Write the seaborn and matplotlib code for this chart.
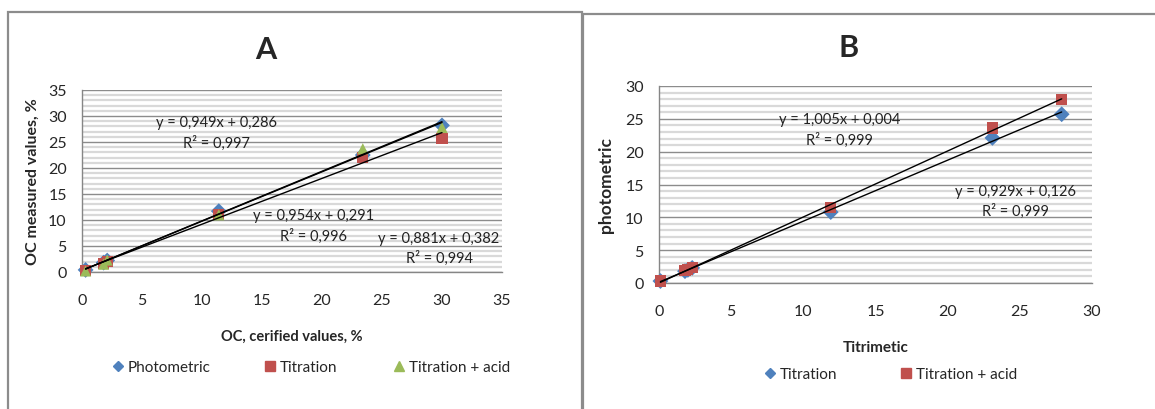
import numpy as np
import pandas as pd
import matplotlib.pyplot as plt
import seaborn as sns
from matplotlib.lines import Line2D
from matplotlib.patches import Rectangle
from matplotlib.ticker import MultipleLocator

sns.set_theme(style="white")
plt.rcParams["font.family"] = ["Lato", "DejaVu Sans"]

# ---- panel A data ----
a_x = [0.3, 1.8, 2.1, 11.4, 23.4, 30.0]
a_photometric = [0.4, 1.8, 2.2, 11.7, 22.5, 28.2]
a_titration = [0.3, 1.6, 2.0, 11.0, 22.0, 25.6]
a_titration_acid = [0.2, 1.5, 2.3, 11.0, 23.7, 27.8]
a_series = ["Photometric", "Titration", "Titration + acid"]
a_slope = [0.949, 0.881, 0.954]
a_intercept = [0.286, 0.382, 0.291]
a_labels = ["y = 0,949x + 0,286\nR² = 0,997",
            "y = 0,881x + 0,382\nR² = 0,994",
            "y = 0,954x + 0,291\nR² = 0,996"]
a_label_xy = [(11.2, 26.9), (29.75, 4.6), (19.3, 9.0)]

# ---- panel B data ----
b_x = [0.1, 1.8, 2.0, 2.3, 11.9, 23.1, 27.9]
b_titration = [0.3, 1.8, 2.0, 2.3, 10.8, 22.1, 25.7]
b_titration_acid = [0.3, 1.9, 2.1, 2.3, 11.5, 23.6, 28.0]
b_series = ["Titration", "Titration + acid"]
b_slope = [0.929, 1.005]
b_intercept = [0.126, 0.004]
b_labels = ["y = 0,929x + 0,126\nR² = 0,999",
            "y = 1,005x + 0,004\nR² = 0,999"]
b_label_xy = [(24.7, 12.5), (12.5, 23.4)]

BLUE, RED, GREEN = "#4F81BD", "#C0504D", "#9BBB59"
W, H = 1155, 410


def frac(left, top, right, bottom):
    return [left / W, 1 - bottom / H, (right - left) / W, (bottom - top) / H]


def style_axes(ax, xmax, ymax):
    ax.set_xlim(0, xmax)
    ax.set_ylim(0, ymax)
    ax.xaxis.set_major_locator(MultipleLocator(5))
    ax.yaxis.set_major_locator(MultipleLocator(5))
    ax.yaxis.set_minor_locator(MultipleLocator(1))
    ax.grid(False)
    ax.grid(which="minor", axis="y", color="#d9d9d9", lw=1.6)
    ax.grid(which="major", axis="y", color="#8c8c8c", lw=1.0)
    ax.set_axisbelow(True)
    for s in ["top", "right"]:
        ax.spines[s].set_visible(False)
    for s in ["left", "bottom"]:
        ax.spines[s].set_color("#868686")
        ax.spines[s].set_linewidth(1.0)
    ax.tick_params(axis="both", which="major", direction="out", length=5,
                   color="#868686", width=1, labelsize=11.5, pad=10)
    ax.tick_params(axis="y", pad=6)
    ax.tick_params(axis="y", which="minor", length=0)


def trend(ax, x, slope, intercept):
    xs = np.array([min(x), max(x)])
    sns.lineplot(x=xs, y=slope * xs + intercept, ax=ax, color="black", lw=1.0, zorder=5)


def legend_item(fig, handle, label, x_px, y_px):
    fig.legend([handle], [label], loc="center left",
               bbox_to_anchor=((x_px - 6) / W, 1 - y_px / H), frameon=False,
               fontsize=11, handlelength=0.9, handletextpad=0.2,
               borderpad=0, borderaxespad=0)


fig = plt.figure(figsize=(W / 100, H / 100), dpi=100)

# frames around the two chart objects
fig.patches.append(Rectangle((8 / W, -0.05), (582 - 8) / W, 1.05 - 13 / H, transform=fig.transFigure,
                             fill=False, ec="#8c8c8c", lw=1.6, clip_on=False))
fig.patches.append(Rectangle((583 / W, -0.05), 0.6, 1.05 - 15 / H, transform=fig.transFigure,
                             fill=False, ec="#8c8c8c", lw=1.6, clip_on=False))

# ---------- A ----------
axA = fig.add_axes(frac(82, 91, 502, 273))
dfA = pd.DataFrame({
    "x": a_x * 3,
    "y": a_photometric + a_titration + a_titration_acid,
    "series": np.repeat(a_series, len(a_x)),
})
sns.scatterplot(data=dfA, x="x", y="y", hue="series", style="series",
                palette=[BLUE, RED, GREEN], markers=["D", "s", "^"],
                s=65, edgecolor="none", ax=axA, legend=False, zorder=3, clip_on=False)
for k in range(3):
    trend(axA, a_x, a_slope[k], a_intercept[k])
style_axes(axA, 35, 35)
for (tx, ty), lab in zip(a_label_xy, a_labels):
    axA.text(tx, ty, lab, ha="center", va="center", fontsize=10.5, linespacing=1.45,
             multialignment="center", color="#222222", zorder=6)
axA.set_xlabel("OC, cerified values, %", fontsize=10.5, fontweight="bold", labelpad=16)
axA.set_ylabel("OC measured values, %", fontsize=11.5, fontweight="bold", labelpad=6)
fig.text(266 / W, 1 - 50 / H, "A", fontsize=22, fontweight="bold", ha="center", va="center")
legend_item(fig, Line2D([], [], ls="none", marker="D", ms=5.5, color=BLUE), a_series[0], 117, 368)
legend_item(fig, Line2D([], [], ls="none", marker="s", ms=7.5, color=RED), a_series[1], 269, 368)
legend_item(fig, Line2D([], [], ls="none", marker="^", ms=7.5, color=GREEN), a_series[2], 398, 368)

# ---------- B ----------
axB = fig.add_axes(frac(659, 87, 1092, 284))
dfB = pd.DataFrame({
    "x": b_x * 2,
    "y": b_titration + b_titration_acid,
    "series": np.repeat(b_series, len(b_x)),
})
sns.scatterplot(data=dfB, x="x", y="y", hue="series", style="series",
                palette=[BLUE, RED], markers=["D", "s"],
                s=65, edgecolor="none", ax=axB, legend=False, zorder=3, clip_on=False)
for k in range(2):
    trend(axB, b_x, b_slope[k], b_intercept[k])
style_axes(axB, 30, 30)
for (tx, ty), lab in zip(b_label_xy, b_labels):
    axB.text(tx, ty, lab, ha="center", va="center", fontsize=10.5, linespacing=1.45,
             multialignment="center", color="#222222", zorder=6)
axB.set_xlabel("Titrimetic", fontsize=11, fontweight="bold", labelpad=16)
axB.set_ylabel("photometric", fontsize=12.5, fontweight="bold", labelpad=8)
fig.text(849 / W, 1 - 48 / H, "B", fontsize=22, fontweight="bold", ha="center", va="center")
legend_item(fig, Line2D([], [], ls="none", marker="D", ms=5.5, color=BLUE), b_series[0], 769, 375)
legend_item(fig, Line2D([], [], ls="none", marker="s", ms=7.5, color=RED), b_series[1], 905, 375)

fig.savefig("out.png", dpi=100)
